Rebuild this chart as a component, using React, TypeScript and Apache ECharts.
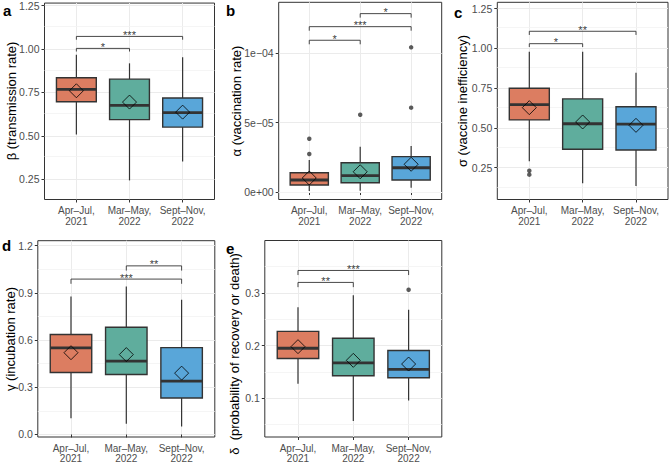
import React, { useEffect, useRef } from 'react';
import * as echarts from 'echarts';

const FONT = 'Liberation Sans, Arial, sans-serif';

const categories = ['Apr–Jul,\n2021', 'Mar–May,\n2022', 'Sept–Nov,\n2022'];
const categoryPositions = [1, 2, 3];
const groupColors = ['#DC7D61', '#5FAD9D', '#59A6D9'];

// box stats: [min, Q1, median, Q3, max]
const betaBoxes = [
  [0.507, 0.696, 0.767, 0.834, 0.967],
  [0.243, 0.593, 0.675, 0.826, 0.917],
  [0.352, 0.55, 0.633, 0.717, 0.952],
];
const betaMeans = [0.759, 0.694, 0.636];
const betaOutliers: number[][] = [];
const betaBrackets = [[1, 2, 1.003, 0.985], [1, 3, 1.072, 1.053]];
const betaStars = ['*', '***'];
const betaTicks = [0.25, 0.5, 0.75, 1.0, 1.25];
const betaTickLabels = ['0.25', '0.50', '0.75', '1.00', '1.25'];
const betaMinor = [0.375, 0.625, 0.875, 1.125];

const alphaBoxes = [
  [0.07e-5, 0.505e-5, 0.865e-5, 1.39e-5, 2.31e-5],
  [0.09e-5, 0.67e-5, 1.18e-5, 2.11e-5, 3.27e-5],
  [0.31e-5, 0.865e-5, 1.75e-5, 2.55e-5, 3.32e-5],
];
const alphaMeans = [1.01e-5, 1.46e-5, 2.0e-5];
const alphaOutliers = [[1, 3.84e-5], [1, 2.74e-5], [2, 5.57e-5], [3, 10.43e-5], [3, 6.08e-5]];
const alphaBrackets = [[1, 2, 10.94e-5, 10.65e-5], [1, 3, 11.92e-5, 11.63e-5], [2, 3, 12.86e-5, 12.57e-5]];
const alphaStars = ['*', '***', '*'];
const alphaTicks = [0, 5e-5, 1e-4];
const alphaTickLabels = ['0e+00', '5e−05', '1e−04'];
const alphaMinor = [2.5e-5, 7.5e-5, 12.5e-5];

const sigmaBoxes = [
  [0.29, 0.55, 0.646, 0.749, 0.979],
  [0.152, 0.366, 0.526, 0.682, 0.979],
  [0.135, 0.361, 0.523, 0.633, 0.847],
];
const sigmaMeans = [0.627, 0.537, 0.516];
const sigmaOutliers = [[1, 0.231], [1, 0.206]];
const sigmaBrackets = [[1, 2, 1.029, 1.008], [1, 3, 1.107, 1.084]];
const sigmaStars = ['*', '**'];
const sigmaTicks = [0.25, 0.5, 0.75, 1.0, 1.25];
const sigmaTickLabels = ['0.25', '0.50', '0.75', '1.00', '1.25'];
const sigmaMinor = [0.125, 0.375, 0.625, 0.875, 1.125];

const gammaBoxes = [
  [0.104, 0.394, 0.55, 0.636, 0.878],
  [0.068, 0.381, 0.467, 0.682, 0.941],
  [0.051, 0.232, 0.339, 0.552, 0.857],
];
const gammaMeans = [0.52, 0.508, 0.39];
const gammaOutliers: number[][] = [];
const gammaBrackets = [[2, 3, 1.072, 1.042], [1, 3, 0.988, 0.958]];
const gammaStars = ['**', '***'];
const gammaTicks = [0, 0.3, 0.6, 0.9, 1.2];
const gammaTickLabels = ['0.0', '0.3', '0.6', '0.9', '1.2'];
const gammaMinor = [0.15, 0.45, 0.75, 1.05];

const deltaBoxes = [
  [0.1275, 0.1755, 0.195, 0.227, 0.273],
  [0.0566, 0.1427, 0.167, 0.214, 0.2955],
  [0.0955, 0.1389, 0.1547, 0.1906, 0.268],
];
const deltaMeans = [0.198, 0.172, 0.165];
const deltaOutliers = [[3, 0.306]];
const deltaBrackets = [[1, 2, 0.32, 0.311], [1, 3, 0.3427, 0.334]];
const deltaStars = ['**', '***'];
const deltaTicks = [0.1, 0.2, 0.3];
const deltaTickLabels = ['0.1', '0.2', '0.3'];
const deltaMinor = [0.05, 0.15, 0.25, 0.35];

const panels = [
  { letter: 'a', name: 'β (transmission rate)', boxes: betaBoxes, means: betaMeans, outliers: betaOutliers, brackets: betaBrackets, stars: betaStars, ticks: betaTicks, tickLabels: betaTickLabels, minor: betaMinor,
    grid: { left: 44.5, top: 2.3, width: 170, height: 197.2 }, yMin: 0.133, yMax: 1.264, namePos: [11, 101], letterPos: [3, 3] },
  { letter: 'b', name: 'α (vaccination rate)', boxes: alphaBoxes, means: alphaMeans, outliers: alphaOutliers, brackets: alphaBrackets, stars: alphaStars, ticks: alphaTicks, tickLabels: alphaTickLabels, minor: alphaMinor,
    grid: { left: 278.7, top: 2.3, width: 163, height: 197.2 }, yMin: -5.4e-6, yMax: 1.3677e-4, namePos: [236, 101], letterPos: [226, 3] },
  { letter: 'c', name: 'σ (vaccine inefficiency)', boxes: sigmaBoxes, means: sigmaMeans, outliers: sigmaOutliers, brackets: sigmaBrackets, stars: sigmaStars, ticks: sigmaTicks, tickLabels: sigmaTickLabels, minor: sigmaMinor,
    grid: { left: 497.3, top: 2.3, width: 170.7, height: 197.2 }, yMin: 0.05, yMax: 1.289, namePos: [462, 101], letterPos: [454, 5] },
  { letter: 'd', name: 'γ (incubation rate)', boxes: gammaBoxes, means: gammaMeans, outliers: gammaOutliers, brackets: gammaBrackets, stars: gammaStars, ticks: gammaTicks, tickLabels: gammaTickLabels, minor: gammaMinor,
    grid: { left: 37.8, top: 240.7, width: 177, height: 197.6 }, yMin: -0.016, yMax: 1.232, namePos: [10, 339], letterPos: [2, 238] },
  { letter: 'e', name: 'δ  (probability of recovery or death)', boxes: deltaBoxes, means: deltaMeans, outliers: deltaOutliers, brackets: deltaBrackets, stars: deltaStars, ticks: deltaTicks, tickLabels: deltaTickLabels, minor: deltaMinor,
    grid: { left: 264.8, top: 240.5, width: 177, height: 197.8 }, yMin: 0.0264, yMax: 0.3996, namePos: [234, 354], letterPos: [226, 241] },
];

function buildOption() {
  const grid: any[] = [];
  const xAxis: any[] = [];
  const yAxis: any[] = [];
  const series: any[] = [];
  const graphic: any[] = [];

  panels.forEach((p, i) => {
    grid.push({ ...p.grid, show: true, backgroundColor: '#fff', borderColor: '#333', borderWidth: 1, containLabel: false });
    xAxis.push({
      type: 'value', gridIndex: i, min: 0.4, max: 3.6,
      axisLine: { show: false },
      axisTick: { show: true, length: 3, lineStyle: { color: '#333', width: 1 }, customValues: categoryPositions },
      axisLabel: {
        customValues: categoryPositions, margin: 6, color: '#4D4D4D', fontSize: 10, lineHeight: 10.5, fontFamily: FONT,
        formatter: (v: number) => categories[Math.round(v) - 1] ?? '',
      },
      splitLine: { show: true, lineStyle: { color: '#EBEBEB', width: 1 } },
    });
    yAxis.push({
      type: 'value', gridIndex: i, min: p.yMin, max: p.yMax,
      axisLine: { show: false },
      axisTick: { show: true, length: 3, lineStyle: { color: '#333', width: 1 }, customValues: p.ticks },
      axisLabel: {
        customValues: p.ticks, margin: 5, color: '#4D4D4D', fontSize: 10.5, fontFamily: FONT,
        formatter: (v: number) => {
          const k = p.ticks.findIndex((t) => Math.abs(t - v) < Math.abs(p.yMax - p.yMin) * 1e-6);
          return k >= 0 ? p.tickLabels[k] : '';
        },
      },
      splitLine: { show: true, lineStyle: { color: '#EBEBEB', width: 1 } },
    });

    // minor grid lines
    series.push({
      type: 'line', xAxisIndex: i, yAxisIndex: i, data: [], silent: true, z: 1,
      markLine: {
        silent: true, z: 1, symbol: ['none', 'none'], label: { show: false },
        lineStyle: { color: '#F2F2F2', width: 0.8, type: 'solid' },
        emphasis: { disabled: true },
        data: p.minor.map((v) => ({ yAxis: v })),
      },
    });

    // boxes
    series.push({
      type: 'custom', xAxisIndex: i, yAxisIndex: i, z: 2, itemStyle: { color: '#333' },
      data: p.boxes.map((b, k) => [categoryPositions[k], ...b]),
      renderItem: (params: any, api: any) => {
        const x = api.value(0);
        const lo = api.coord([x, api.value(1)]);
        const q1 = api.coord([x, api.value(2)]);
        const med = api.coord([x, api.value(3)]);
        const q3 = api.coord([x, api.value(4)]);
        const hi = api.coord([x, api.value(5)]);
        const w = api.size([0.75, 0])[0];
        const cx = q1[0];
        const color = groupColors[params.dataIndex];
        return {
          type: 'group',
          children: [
            { type: 'line', shape: { x1: cx, y1: q3[1], x2: cx, y2: hi[1] }, style: { stroke: '#333', lineWidth: 1.2 } },
            { type: 'line', shape: { x1: cx, y1: q1[1], x2: cx, y2: lo[1] }, style: { stroke: '#333', lineWidth: 1.2 } },
            { type: 'rect', shape: { x: cx - w / 2, y: q3[1], width: w, height: q1[1] - q3[1] }, style: { fill: color, stroke: '#333', lineWidth: 1.4 } },
            { type: 'line', shape: { x1: cx - w / 2, y1: med[1], x2: cx + w / 2, y2: med[1] }, style: { stroke: '#333', lineWidth: 2.8 } },
          ],
        };
      },
    });

    // outliers
    series.push({
      type: 'scatter', xAxisIndex: i, yAxisIndex: i, z: 3, symbol: 'circle', symbolSize: 4.5,
      itemStyle: { color: '#333' }, data: p.outliers,
    });

    // means
    series.push({
      type: 'scatter', xAxisIndex: i, yAxisIndex: i, z: 4, symbol: 'diamond', symbolSize: 14,
      itemStyle: { color: 'rgba(0,0,0,0)', borderColor: '#000', borderWidth: 1 },
      data: p.means.map((m, k) => [categoryPositions[k], m]),
    });

    // significance brackets
    series.push({
      type: 'custom', xAxisIndex: i, yAxisIndex: i, z: 5, itemStyle: { color: '#333' },
      data: p.brackets,
      renderItem: (params: any, api: any) => {
        const x1 = api.value(0), x2 = api.value(1), y = api.value(2), yl = api.value(3);
        const a = api.coord([x1, yl]);
        const b = api.coord([x1, y]);
        const c = api.coord([x2, y]);
        const d = api.coord([x2, yl]);
        return { type: 'polyline', shape: { points: [a, b, c, d] }, style: { stroke: '#333', lineWidth: 0.9, fill: 'none' } };
      },
    });
    // significance stars
    series.push({
      type: 'scatter', xAxisIndex: i, yAxisIndex: i, z: 6, symbol: 'circle', symbolSize: 1, silent: true,
      itemStyle: { color: 'rgba(0,0,0,0)' },
      data: p.brackets.map((br) => [(br[0] + br[1]) / 2, br[2]]),
      label: {
        show: true, position: 'inside', offset: [0, -1.5], color: '#000', fontSize: 11, fontFamily: FONT,
        formatter: (prm: any) => p.stars[prm.dataIndex],
      },
    });

    graphic.push({
      type: 'text', left: p.letterPos[0], top: p.letterPos[1],
      style: { text: p.letter, fontSize: 15, fontWeight: 'bold', fontFamily: FONT, fill: '#000' },
    });
    graphic.push({
      type: 'text', x: p.namePos[0], y: p.namePos[1], rotation: Math.PI / 2,
      style: { text: p.name, fontSize: 13, fontFamily: FONT, fill: '#000', align: 'center', verticalAlign: 'middle' },
    });
  });

  return {
    animation: false,
    backgroundColor: '#fff',
    textStyle: { fontFamily: FONT },
    grid, xAxis, yAxis, series, graphic,
  };
}

export default function App() {
  const ref = useRef<HTMLDivElement>(null);
  useEffect(() => {
    if (!ref.current) return;
    const chart = echarts.init(ref.current, undefined, { renderer: 'svg' });
    chart.setOption(buildOption() as any);
    return () => chart.dispose();
  }, []);
  return <div ref={ref} style={{ position: 'absolute', left: 0, top: 0, width: 669, height: 464 }} />;
}
